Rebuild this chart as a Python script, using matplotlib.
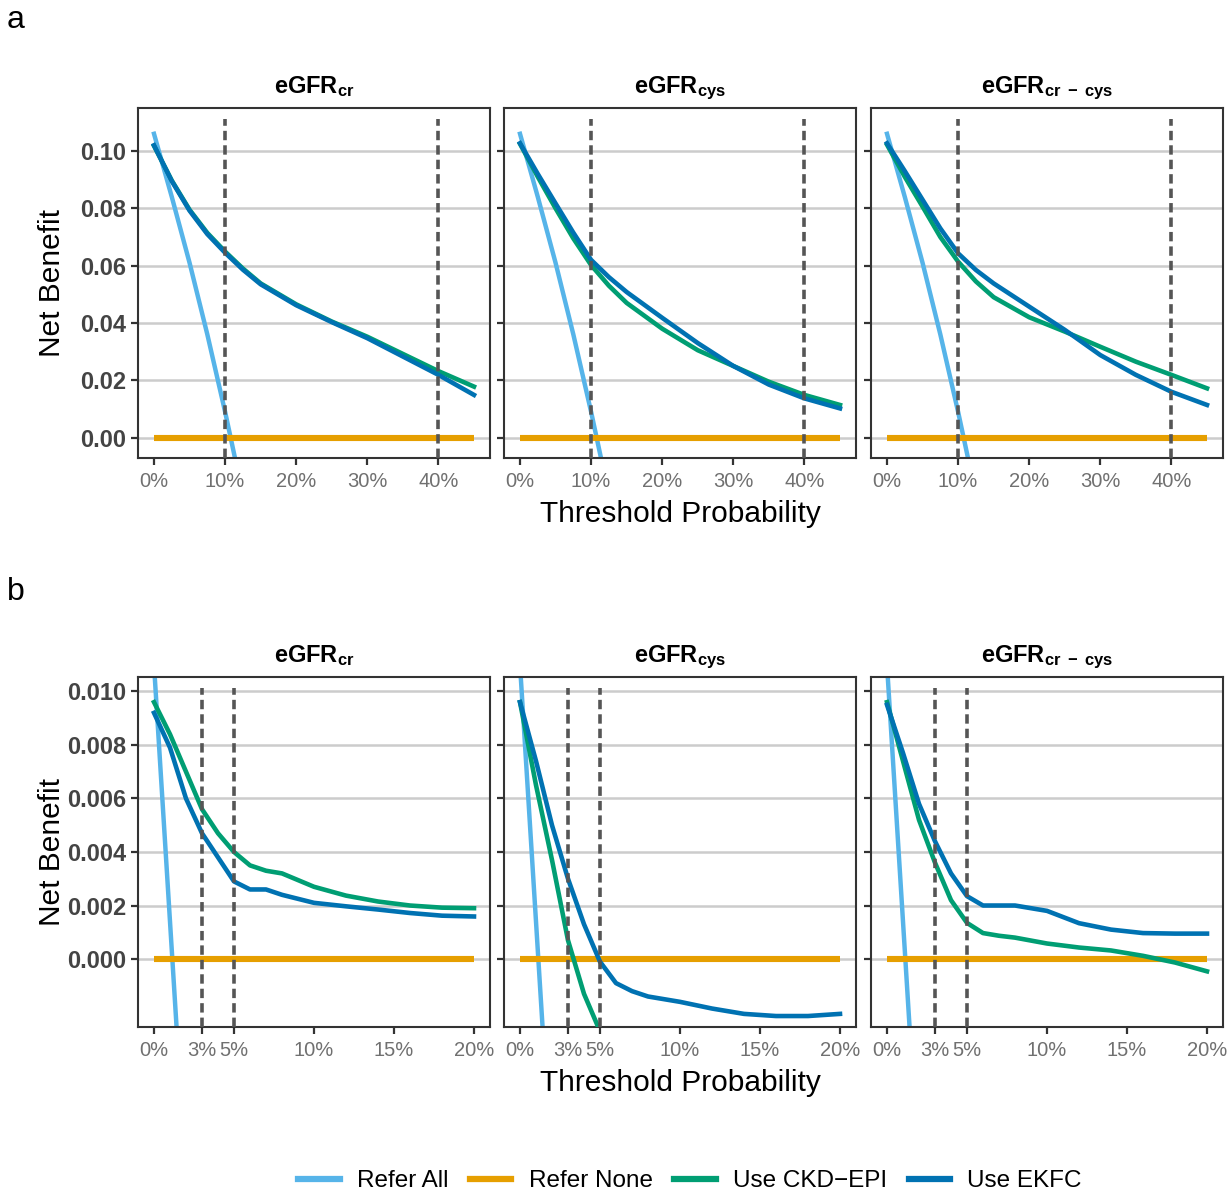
import numpy as np
import matplotlib
matplotlib.use("Agg")
import matplotlib.pyplot as plt
from matplotlib.lines import Line2D

plt.rcParams['font.family'] = ['Liberation Sans', 'DejaVu Sans']
plt.rcParams['mathtext.fontset'] = 'custom'
plt.rcParams['mathtext.rm'] = 'Liberation Sans'
plt.rcParams['mathtext.bf'] = 'Liberation Sans:bold'
plt.rcParams['mathtext.it'] = 'Liberation Sans:italic'

# ---- data ----
panel_titles = [r'$\mathbf{eGFR}_{\mathbf{cr}}$',
                r'$\mathbf{eGFR}_{\mathbf{cys}}$',
                r'$\mathbf{eGFR}_{\mathbf{cr\ -\ cys}}$']
series_names = ['Refer All', 'Refer None', 'Use CKD\u2212EPI', 'Use EKFC']

# row a : threshold 0-45 %
a_x = [0, 0.025, 0.05, 0.075, 0.10, 0.125, 0.15, 0.20, 0.25, 0.30, 0.35, 0.40, 0.45]
a_all_x = [0, 0.025, 0.05, 0.075, 0.10, 0.125]
a_all_y = [0.106, 0.084, 0.061, 0.036, 0.009, -0.020]
a_ckd = [
    [0.1018, 0.0897, 0.0795, 0.0714, 0.0649, 0.0590, 0.0538, 0.0465, 0.0405, 0.0352, 0.0292, 0.0232, 0.0178],
    [0.1025, 0.0910, 0.0800, 0.0695, 0.0602, 0.0530, 0.0470, 0.0380, 0.0305, 0.0250, 0.0195, 0.0149, 0.0114],
    [0.1022, 0.0910, 0.0806, 0.0700, 0.0614, 0.0545, 0.0490, 0.0420, 0.0370, 0.0317, 0.0265, 0.0219, 0.0172],
]
a_ekfc = [
    [0.1020, 0.0895, 0.0792, 0.0710, 0.0645, 0.0586, 0.0535, 0.0462, 0.0403, 0.0347, 0.0283, 0.0219, 0.0149],
    [0.1027, 0.0920, 0.0817, 0.0715, 0.0620, 0.0560, 0.0508, 0.0418, 0.0330, 0.0250, 0.0185, 0.0137, 0.0102],
    [0.1027, 0.0930, 0.0830, 0.0730, 0.0643, 0.0585, 0.0538, 0.0457, 0.0376, 0.0288, 0.0219, 0.0160, 0.0114],
]
a_cut = [0.10, 0.40]
a_ticks = [0, 0.10, 0.20, 0.30, 0.40]
a_ticklabels = ['0%', '10%', '20%', '30%', '40%']
a_yticks = [0.00, 0.02, 0.04, 0.06, 0.08, 0.10]
a_yticklabels = ['0.00', '0.02', '0.04', '0.06', '0.08', '0.10']

# row b : threshold 0-20 %
b_x = [0, 0.01, 0.02, 0.03, 0.04, 0.05, 0.06, 0.07, 0.08, 0.10, 0.12, 0.14, 0.16, 0.18, 0.20]
b_all_x = [0, 0.005, 0.01, 0.015, 0.02]
b_all_y = [0.0110, 0.0062, 0.0014, -0.0034, -0.0082]
nan = np.nan
b_ckd = [
    [0.0096, 0.0084, 0.0070, 0.0056, 0.0047, 0.0040, 0.0035, 0.0033, 0.0032, 0.0027, 0.00237, 0.00215, 0.00200, 0.00192, 0.00190],
    [0.0096, 0.0065, 0.0037, 0.0007, -0.0013, -0.0027, -0.0042, nan, nan, nan, nan, nan, nan, nan, nan],
    [0.0096, 0.0074, 0.0052, 0.0036, 0.0022, 0.00135, 0.00097, 0.00087, 0.00080, 0.00058, 0.00043, 0.00032, 0.00012, -0.00013, -0.00046],
]
b_ekfc = [
    [0.0092, 0.0079, 0.0060, 0.0047, 0.0038, 0.0029, 0.0026, 0.0026, 0.0024, 0.0021, 0.00197, 0.00185, 0.00172, 0.00162, 0.00159],
    [0.0096, 0.0074, 0.0050, 0.0030, 0.0013, -0.0001, -0.0009, -0.0012, -0.0014, -0.0016, -0.00185, -0.00205, -0.00213, -0.00213, -0.00205],
    [0.0095, 0.0077, 0.0058, 0.0044, 0.0032, 0.00235, 0.0020, 0.0020, 0.0020, 0.0018, 0.00134, 0.0011, 0.00097, 0.00095, 0.00095],
]
b_cut = [0.03, 0.05]
b_ticks = [0, 0.03, 0.05, 0.10, 0.15, 0.20]
b_ticklabels = ['0%', '3%', '5%', '10%', '15%', '20%']
b_yticks = [0.000, 0.002, 0.004, 0.006, 0.008, 0.010]
b_yticklabels = ['0.000', '0.002', '0.004', '0.006', '0.008', '0.010']

colors = ['#56B4E9', '#E69F00', '#009E73', '#0072B2']

# ---- figure ----
fig = plt.figure(figsize=(12.29, 11.92), dpi=100)
W, H = 1229, 1192
lefts = [138, 504, 871]
pw, ph = 352, 350
tops = [108, 677]

rows = [
    dict(x=a_x, allx=a_all_x, ally=a_all_y, ckd=a_ckd, ekfc=a_ekfc, cut=a_cut,
         ticks=a_ticks, tl=a_ticklabels, yt=a_yticks, ytl=a_yticklabels,
         xlim=(-0.0225, 0.4725), ylim=(-0.0071, 0.115), xmax=0.45),
    dict(x=b_x, allx=b_all_x, ally=b_all_y, ckd=b_ckd, ekfc=b_ekfc, cut=b_cut,
         ticks=b_ticks, tl=b_ticklabels, yt=b_yticks, ytl=b_yticklabels,
         xlim=(-0.01, 0.21), ylim=(-0.00254, 0.01054), xmax=0.20),
]

for r, row in enumerate(rows):
    for c in range(3):
        ax = fig.add_axes([lefts[c] / W, 1 - (tops[r] + ph) / H, pw / W, ph / H])
        ax.set_xlim(*row['xlim'])
        ax.set_ylim(*row['ylim'])
        for y in row['yt']:
            ax.axhline(y, color='#CCCCCC', lw=1.8, zorder=0)
        ax.plot(row['allx'], row['ally'], color=colors[0], lw=3.2, zorder=2)
        ax.plot([0, row['xmax']], [0, 0], color=colors[1], lw=4.4, zorder=2,
                solid_capstyle='butt')
        ax.plot(row['x'], row['ckd'][c], color=colors[2], lw=3.3, zorder=3)
        ax.plot(row['x'], row['ekfc'][c], color=colors[3], lw=3.3, zorder=4)
        for xv in row['cut']:
            ax.axvline(xv, ymin=0, ymax=0.97, color='#555555',
                       lw=2.6, ls=(0, (2.6, 1.4)), zorder=5)
        ax.set_xticks(row['ticks'])
        ax.set_xticklabels(row['tl'], color='#707070', fontsize=14.5)
        ax.set_yticks(row['yt'])
        if c == 0:
            ax.set_yticklabels(row['ytl'], color='#444444', fontsize=17,
                               fontweight='bold')
        else:
            ax.set_yticklabels([])
            ax.tick_params(axis='y', length=0)
        ax.tick_params(axis='both', color='#333333', width=1.6, length=5)
        ax.tick_params(axis='x', pad=5)
        for s in ax.spines.values():
            s.set_color('#333333')
            s.set_linewidth(1.5)
        ax.set_title(panel_titles[c], fontsize=17, pad=11)

    fig.text(52 / W, 1 - (tops[r] + ph / 2) / H, 'Net Benefit', rotation=90,
             ha='center', va='center', fontsize=21.5)
    fig.text(680 / W, 1 - (tops[r] + ph + 56) / H, 'Threshold Probability',
             ha='center', va='center', fontsize=21.5)

fig.text(7 / W, 1 - 20 / H, 'a', fontsize=23, va='center')
fig.text(7 / W, 1 - 592 / H, 'b', fontsize=23, va='center')

handles = [Line2D([], [], color=col, lw=4.5) for col in colors]
fig.legend(handles, series_names, loc='center', bbox_to_anchor=(690 / W, 11 / H),
           ncol=4, frameon=False, fontsize=17.5, handlelength=1.7,
           columnspacing=0.9, handletextpad=0.7)

fig.savefig('out.png', dpi=100)
